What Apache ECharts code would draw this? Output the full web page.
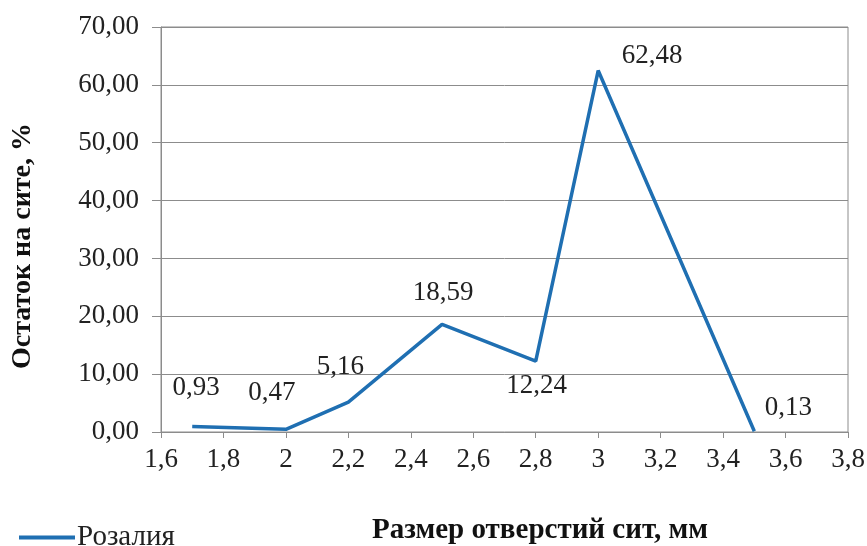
<!DOCTYPE html>
<html>
<head>
<meta charset="utf-8">
<script src="https://cdn.jsdelivr.net/npm/echarts@6/dist/echarts.min.js"></script>
<style>
  html, body { margin: 0; padding: 0; background: #fff; }
</style>
</head>
<body>
<div id="main" style="width:867px;height:546px;"></div>
<script>
  // размер отверстий сит, мм
  var sieveSizes = [1.7, 2, 2.2, 2.5, 2.8, 3, 3.5]
  // остаток на сите, %
  var residue = [0.93, 0.47, 5.16, 18.59, 12.24, 62.48, 0.13]
  var seriesName = 'Розалия'

  // смещения подписей относительно точек (px)
  var labelOffsets = [[4, -39], [-14, -36], [-8, -35], [1, -32], [1, 25], [54, -15], [34, -23]]

  var serif = '"Liberation Serif", "DejaVu Serif", serif'
  var comma = function (v, d) {
    return (d === undefined ? String(v) : v.toFixed(d)).replace('.', ',')
  }

  var points = sieveSizes.map(function (x, i) {
    return {
      value: [x, residue[i]],
      label: { offset: labelOffsets[i] }
    }
  })

  var myChart = echarts.init(document.getElementById('main'))
  myChart.setOption({
    backgroundColor: '#fff',
    animation: false,
    grid: {
      left: 161, right: 19, top: 27, bottom: 114,
      outerBoundsMode: 'none',
      containLabel: false,
      show: true, borderColor: '#8c8c8c', borderWidth: 1
    },
    legend: {
      left: 14, top: 518,
      itemWidth: 56, itemHeight: 4, itemGap: 4,
      data: [{ name: seriesName, icon: 'rect' }],
      textStyle: { fontFamily: serif, fontSize: 29, color: '#222', padding: [0, 0, 0, -3] }
    },
    xAxis: {
      type: 'value',
      min: 1.6, max: 3.8, interval: 0.2,
      name: 'Размер отверстий сит, мм',
      nameLocation: 'middle',
      nameGap: 84,
      nameTextStyle: {
        fontFamily: serif, fontSize: 29, fontWeight: 'bold', color: '#111',
        padding: [0, 0, 0, 71]
      },
      axisLine: { show: true, lineStyle: { color: '#8c8c8c' } },
      axisTick: { show: true, length: 6, lineStyle: { color: '#8c8c8c' } },
      splitLine: { show: false },
      axisLabel: {
        fontFamily: serif, fontSize: 27, color: '#222', margin: 14,
        formatter: function (v) { return comma(Math.round(v * 10) / 10) }
      }
    },
    yAxis: {
      type: 'value',
      min: 0, max: 70, interval: 10,
      name: 'Остаток на сите, %',
      nameLocation: 'middle',
      nameGap: 124,
      nameTextStyle: {
        fontFamily: serif, fontSize: 28, fontWeight: 'bold', color: '#111',
        padding: [0, 33, 0, 0]
      },
      axisLine: { show: true, lineStyle: { color: '#8c8c8c' } },
      axisTick: { show: true, length: 9, lineStyle: { color: '#8c8c8c' } },
      splitLine: { show: true, lineStyle: { color: '#8c8c8c', width: 1 } },
      axisLabel: {
        fontFamily: serif, fontSize: 27, color: '#222', margin: 22,
        formatter: function (v) { return comma(v, 2) }
      }
    },
    series: [{
      name: seriesName,
      type: 'line',
      data: points,
      symbol: 'circle',
      symbolSize: 0,
      showSymbol: true,
      lineStyle: { color: '#1f6fb2', width: 3.5 },
      itemStyle: { color: '#1f6fb2' },
      label: {
        show: true,
        position: 'inside',
        fontFamily: serif, fontSize: 27, color: '#222',
        formatter: function (p) { return comma(p.value[1], 2) }
      }
    }]
  })
</script>
</body>
</html>
